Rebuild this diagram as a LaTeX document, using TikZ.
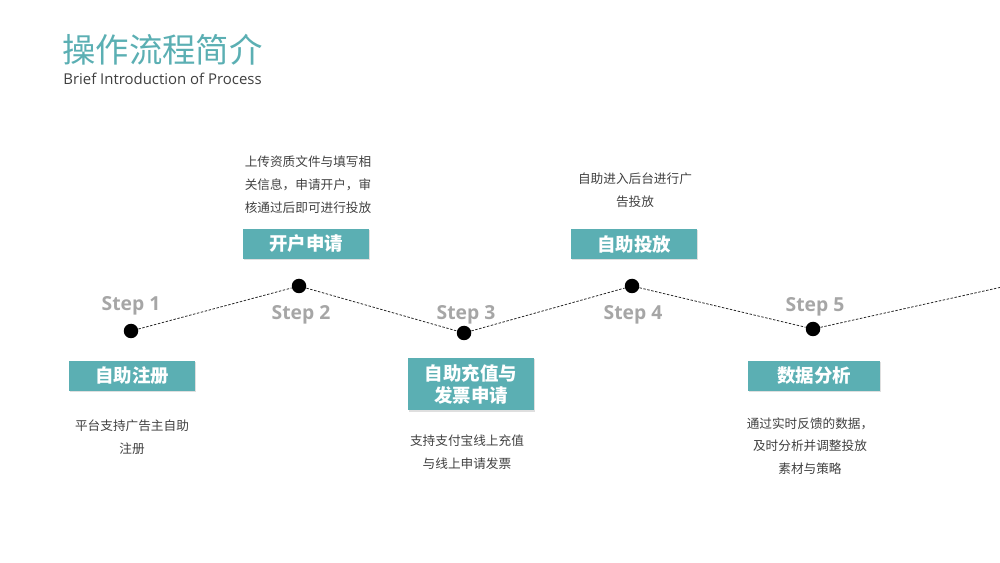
\documentclass[tikz,border=0pt]{standalone}
\usepackage{fontspec}
\setmainfont{Open Sans}
\newfontfamily\cjk{Noto Sans CJK SC}
\usepackage{tikz}
\usetikzlibrary{shadows}
\definecolor{tealbox}{HTML}{5BAFB3}
\definecolor{steptext}{HTML}{A6A6A6}
\definecolor{desctext}{HTML}{404040}
\definecolor{subtext}{HTML}{3F3F3F}

\tikzset{
  stepdot/.style={circle, fill=black, inner sep=0pt, minimum size=0.29cm},
  steplabel/.style={text=steptext, font=\fontsize{11pt}{13pt}\selectfont\bfseries},
  stepbox/.style={fill=tealbox, text=white, minimum width=2.52cm, minimum height=0.6cm,
    inner sep=2pt, align=center, font=\fontsize{10.5pt}{12.5pt}\selectfont\cjk\bfseries,
    drop shadow={opacity=0.25, shadow xshift=0.6pt, shadow yshift=-0.8pt}},
  desc/.style={text=desctext, align=center, font=\fontsize{7.2pt}{13pt}\selectfont\cjk},
  link/.style={dash pattern=on 1.4pt off 0.9pt, line width=0.45pt, black!85}
}

\begin{document}
\begin{tikzpicture}[x=0.02cm, y=-0.02cm]
  \useasboundingbox (0,0) rectangle (1000,563);

  % Title
  \node[anchor=west, inner sep=0pt, text=tealbox, font=\fontsize{19pt}{22pt}\selectfont\cjk] (title) at (62,50) {操作流程简介};
  \node[anchor=west, inner sep=0pt, text=subtext, font=\fontsize{8.5pt}{10pt}\selectfont] (subtitle) at (63,79) {Brief Introduction of Process};

  % Dots
  \node[stepdot] (d1) at (131,331) {};
  \node[stepdot] (d2) at (299,286) {};
  \node[stepdot] (d3) at (464,333) {};
  \node[stepdot] (d4) at (632,286) {};
  \node[stepdot] (d5) at (813,329) {};
  \coordinate (dend) at (1002,287);

  % Dashed path
  \draw[link] (d1) -- (d2);
  \draw[link] (d2) -- (d3);
  \draw[link] (d3) -- (d4);
  \draw[link] (d4) -- (d5);
  \draw[link] (d5) -- (dend);

  % Step labels
  \node[steplabel] (s1) at (131,306) {Step 1};
  \node[steplabel] (s2) at (301,315) {Step 2};
  \node[steplabel] (s3) at (466,315) {Step 3};
  \node[steplabel] (s4) at (633,315) {Step 4};
  \node[steplabel] (s5) at (815,307) {Step 5};

  % Boxes
  \node[stepbox] (b1) at (132,376) {自助注册};
  \node[stepbox] (b2) at (306,244) {开户申请};
  \node[stepbox, minimum height=1.06cm] (b3) at (471,384) {自助充值与\\发票申请};
  \node[stepbox] (b4) at (634,244) {自助投放};
  \node[stepbox, minimum width=2.64cm] (b5) at (814,376) {数据分析};

  % Descriptions
  \node[desc] (t1) at (132,437) {平台支持广告主自助\\注册};
  \node[desc] (t2) at (308,185) {上传资质文件与填写相\\关信息，申请开户，审\\核通过后即可进行投放};
  \node[desc] (t3) at (467,452) {支持支付宝线上充值\\与线上申请发票};
  \node[desc] (t4) at (635,190) {自助进入后台进行广\\告投放};
  \node[desc] (t5) at (810,446) {通过实时反馈的数据，\\及时分析并调整投放\\素材与策略};
\end{tikzpicture}
\end{document}
